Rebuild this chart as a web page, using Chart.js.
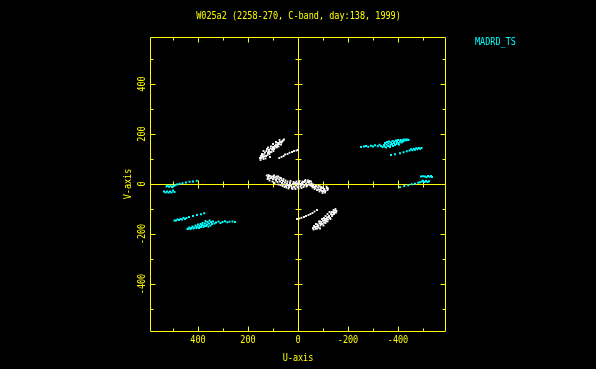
<!DOCTYPE html>
<html>
<head>
<meta charset="utf-8">
<script src="https://cdn.jsdelivr.net/npm/chart.js@4.4.1/dist/chart.umd.min.js"></script>
<style>
  html, body { margin: 0; padding: 0; background: #000; }
  #wrap { width: 596px; height: 369px; }
</style>
</head>
<body>
<div id="wrap"><canvas id="uv" width="596" height="369"></canvas></div>
<script>
/* UV coverage — W025a2, C-band */

const chartTitle = 'W025a2 (2258-270, C-band, day:138, 1999)';
const sourceLabel = 'MADRD_TS';
const xAxisTitle = 'U-axis';
const yAxisTitle = 'V-axis';
const xTickLabels = [400, 200, 0, -200, -400];
const yTickLabels = [400, 200, 0, -200, -400];
const minorTicks = [-500, -400, -300, -200, -100, 100, 200, 300, 400, 500];

// cyan tracks, upper right
const cyanA = [[-252,148],[-264,150],[-272,152],[-281,149],[-292,153],[-300,150],[-308,155],[-319,151],[-326,157],[-332,152],[-338,148],
  [-344,156],[-346,150],[-348,164],[-352,146],[-354,158],[-356,168],[-360,152],[-362,162],[-364,170],[-368,148],[-370,156],[-372,166],
  [-376,160],[-378,172],[-380,152],[-384,164],[-386,170],[-388,156],[-392,174],[-394,160],[-396,168],[-400,176],[-402,164],[-404,158],
  [-408,170],[-410,176],[-414,166],[-416,174],[-420,170],[-422,178],[-426,174],[-430,178],[-434,175],[-438,178],[-442,176]];
const cyanB = [[-372,116],[-388,119],[-408,123],[-422,127],[-435,131],[-446,134],[-452,139],[-458,135],[-463,141],[-468,137],
  [-473,143],[-478,139],[-483,144],[-488,141],[-494,144]];
const cyanC = [[-408,-13],[-425,-8],[-441,-5],[-455,-1],[-468,1],[-481,5],[-488,7],[-496,10],[-500,13],[-506,8],[-512,12],[-518,8],
  [-524,11],[-492,30],[-500,31],[-508,30],[-514,27],[-520,32],[-526,29],[-532,32],[-536,28]];

// cyan tracks, lower left
const cyanA2 = [[252,-152],[262,-150],[274,-151],[283,-153],[292,-149],[302,-152],[310,-156],[318,-150],[328,-154],[334,-158],[340,-150],
  [344,-160],[348,-152],[350,-166],[354,-146],[356,-158],[358,-170],[362,-152],[364,-162],[368,-168],[370,-148],[372,-158],[376,-166],
  [378,-172],[382,-156],[384,-164],[388,-172],[390,-160],[394,-168],[396,-176],[400,-162],[404,-170],[406,-176],[410,-166],[414,-174],
  [418,-178],[422,-170],[426,-176],[430,-180],[434,-174],[438,-178],[442,-180]];
const cyanB2 = [[375,-117],[388,-121],[404,-124],[420,-128],[436,-132],[446,-136],[452,-140],[458,-136],[464,-142],[470,-140],
  [476,-144],[482,-142],[488,-146],[494,-146]];
const cyanC2 = [[405,13],[420,10],[434,9],[448,6],[462,3],[474,1],[484,-2],[492,-5],[498,-8],[504,-12],[510,-7],[516,-11],[522,-7],
  [526,-10],[494,-32],[500,-26],[506,-34],[512,-30],[518,-34],[524,-30],[530,-34],[536,-30]];

// white points near the centre
const whiteA = [[152,104],[148,112],[140,108],[144,120],[136,118],[132,126],[128,112],[126,132],[120,124],[116,136],[112,128],[110,142],
  [104,138],[100,148],[96,140],[92,152],[88,158],[84,150],[80,164],[76,160],[72,168],[66,166],[60,174],[124,140],[108,150],[130,102],[138,132],
  [150,96],[146,104],[142,114],[138,100],[134,110],[122,116],[118,130],[114,120],[106,128],[102,140],[98,132],[94,144],[86,146],
  [82,156],[78,150],[74,176],[68,158],[64,170],[56,178],[112,108],[120,146],[100,160],[88,168]];
const whiteB = [[75,104],[66,108],[58,112],[52,118],[42,120],[34,125],[24,128],[16,132],[6,134],[0,136]];
const whiteC = [[125,34],[120,28],[116,22],[112,32],[104,30],[100,20],[96,34],[92,26],[88,14],[84,22],[80,30],[76,18],[72,10],[68,24],
  [64,4],[60,12],[56,-2],[52,6],[48,-8],[44,2],[40,-4],[36,-12],[32,4],[28,-6],[24,-16],[20,0],[16,-10],[12,4],[8,-6],[4,2],[0,-2],
  [-4,6],[-8,0],[-12,-4],[-16,4],[-20,-2],[-24,8],[-28,12],[-32,2],[-36,-6],[-40,14],[-44,6],[-48,-2],[-52,10],[-56,-8],[-60,-2],
  [-64,-12],[-72,-8],[-80,-14],[-84,-22],[-88,-10],[-92,-18],[-96,-28],[-100,-16],[-104,-24],[-108,-34],[-116,-16],[-118,-24],
  [122,20],[118,36],[114,14],[108,24],[102,10],[98,28],[94,4],[90,18],[86,30],[82,8],[78,-2],[74,26],[70,-4],[66,16],[62,-8],
  [58,20],[54,-12],[50,14],[46,-14],[42,10],[38,-18],[34,-4],[30,12],[26,-10],[22,-20],[18,8],[14,-14],[10,-20],[6,10],[2,-12],
  [-2,-18],[-6,12],[-10,-10],[-14,-16],[-18,10],[-22,-12],[-26,-6],[-30,16],[-34,-10],[-38,8],[-42,-2],[-46,12],[-50,-6],[-54,2],
  [-58,-14],[-62,-4],[-66,-20],[-70,-16],[-76,-24],[-82,-6],[-86,-30],[-90,-24],[-94,-12],[-98,-36],[-102,-30],[-106,-20],
  [-110,-28],[-114,-10],[-120,-18]];
const whiteD = [[-60,-176],[-64,-168],[-70,-180],[-74,-170],[-78,-162],[-82,-174],[-86,-158],[-90,-166],[-94,-152],[-98,-160],[-100,-146],
  [-104,-154],[-108,-140],[-112,-148],[-116,-134],[-120,-142],[-124,-128],[-128,-136],[-132,-120],[-136,-128],[-140,-112],[-144,-120],
  [-148,-106],[-152,-114],[-126,-112],[-110,-128],[-96,-140],
  [-62,-182],[-68,-172],[-72,-160],[-76,-178],[-80,-168],[-84,-150],[-88,-178],[-92,-160],[-102,-166],[-106,-146],[-110,-156],
  [-114,-140],[-118,-150],[-122,-132],[-130,-140],[-134,-112],[-138,-122],[-142,-104],[-146,-114],[-150,-100],[-154,-108],
  [-118,-120],[-104,-136],[-88,-150]];
const whiteE = [[4,-140],[-6,-138],[-14,-135],[-24,-132],[-32,-128],[-42,-124],[-50,-120],[-58,-116],[-66,-110],[-76,-104]];

const YELLOW = '#ffff00';
const CYAN = '#00ffff';
const WHITE = '#ffffff';

function pts(arr) {
  return arr.map((p) => ({ x: p[0], y: p[1] }));
}

function serie(label, arr, color, r) {
  return {
    label,
    data: pts(arr),
    pointStyle: 'rect',
    pointRadius: r,
    borderWidth: 0,
    backgroundColor: color,
    pointBackgroundColor: color,
  };
}

function text(ctx, str, x, y, color, opts) {
  opts = opts || {};
  ctx.save();
  ctx.translate(x, y);
  if (opts.rotate) ctx.rotate(-Math.PI / 2);
  ctx.scale(0.85, 1);
  ctx.fillStyle = color;
  ctx.font = '10px "DejaVu Sans Mono"';
  ctx.textAlign = opts.align || 'center';
  ctx.textBaseline = 'middle';
  ctx.fillText(str, 0, 0);
  ctx.restore();
}

// frame, zero axes, inward ticks and labels
const uvFrame = {
  id: 'uvFrame',
  beforeDatasetsDraw(chart) {
    const ctx = chart.ctx;
    const a = chart.chartArea;
    const sx = chart.scales.x;
    const sy = chart.scales.y;
    const px = (v) => Math.round(sx.getPixelForValue(v)) + 0.5;
    const py = (v) => Math.round(sy.getPixelForValue(v)) + 0.5;
    const L = a.left + 0.5, R = a.right + 0.5, T = a.top + 0.5, B = a.bottom + 0.5;

    ctx.save();
    ctx.strokeStyle = YELLOW;
    ctx.lineWidth = 1;
    ctx.beginPath();
    ctx.rect(L, T, R - L, B - T);
    // zero axes
    ctx.moveTo(px(0), T); ctx.lineTo(px(0), B);
    ctx.moveTo(L, py(0)); ctx.lineTo(R, py(0));

    minorTicks.forEach((v) => {
      const major = v % 200 === 0;
      const fl = major ? 5 : 3;
      const al = major ? 4 : 3;
      const x = px(v), y = py(v);
      // top / bottom frame
      ctx.moveTo(x, T); ctx.lineTo(x, T + fl);
      ctx.moveTo(x, B); ctx.lineTo(x, B - fl);
      // left / right frame
      ctx.moveTo(L, y); ctx.lineTo(L + fl, y);
      ctx.moveTo(R, y); ctx.lineTo(R - fl, y);
      // across the zero axes
      ctx.moveTo(x, py(0) - al); ctx.lineTo(x, py(0) + al);
      ctx.moveTo(px(0) - al, y); ctx.lineTo(px(0) + al, y);
    });
    ctx.stroke();
    ctx.restore();

    xTickLabels.forEach((v) => text(ctx, String(v), sx.getPixelForValue(v), a.bottom + 9, YELLOW));
    yTickLabels.forEach((v) => text(ctx, String(v), a.left - 8, sy.getPixelForValue(v), YELLOW, { rotate: true }));

    text(ctx, chartTitle, 298.5, 16.5, YELLOW);
    text(ctx, xAxisTitle, sx.getPixelForValue(0), 358, YELLOW);
    text(ctx, yAxisTitle, 128.5, sy.getPixelForValue(0), YELLOW, { rotate: true });
    text(ctx, sourceLabel, 475, 42, CYAN, { align: 'left' });
  },
};

new Chart(document.getElementById('uv'), {
  type: 'scatter',
  data: {
    datasets: [
      serie('cyanA', cyanA, CYAN, 1.4),
      serie('cyanB', cyanB, CYAN, 1.4),
      serie('cyanC', cyanC, CYAN, 1.4),
      serie('cyanA2', cyanA2, CYAN, 1.4),
      serie('cyanB2', cyanB2, CYAN, 1.4),
      serie('cyanC2', cyanC2, CYAN, 1.4),
      serie('whiteA', whiteA, WHITE, 1.3),
      serie('whiteB', whiteB, WHITE, 1.3),
      serie('whiteC', whiteC, WHITE, 1.3),
      serie('whiteD', whiteD, WHITE, 1.3),
      serie('whiteE', whiteE, WHITE, 1.3),
    ],
  },
  options: {
    responsive: false,
    animation: false,
    events: [],
    layout: { padding: { left: 150, right: 151, top: 37, bottom: 38 } },
    plugins: {
      legend: { display: false },
      title: { display: false },
      tooltip: { enabled: false },
    },
    scales: {
      x: { type: 'linear', reverse: true, min: -588, max: 592, display: false },
      y: { type: 'linear', min: -588, max: 588, display: false },
    },
  },
  plugins: [uvFrame],
});
</script>
</body>
</html>
